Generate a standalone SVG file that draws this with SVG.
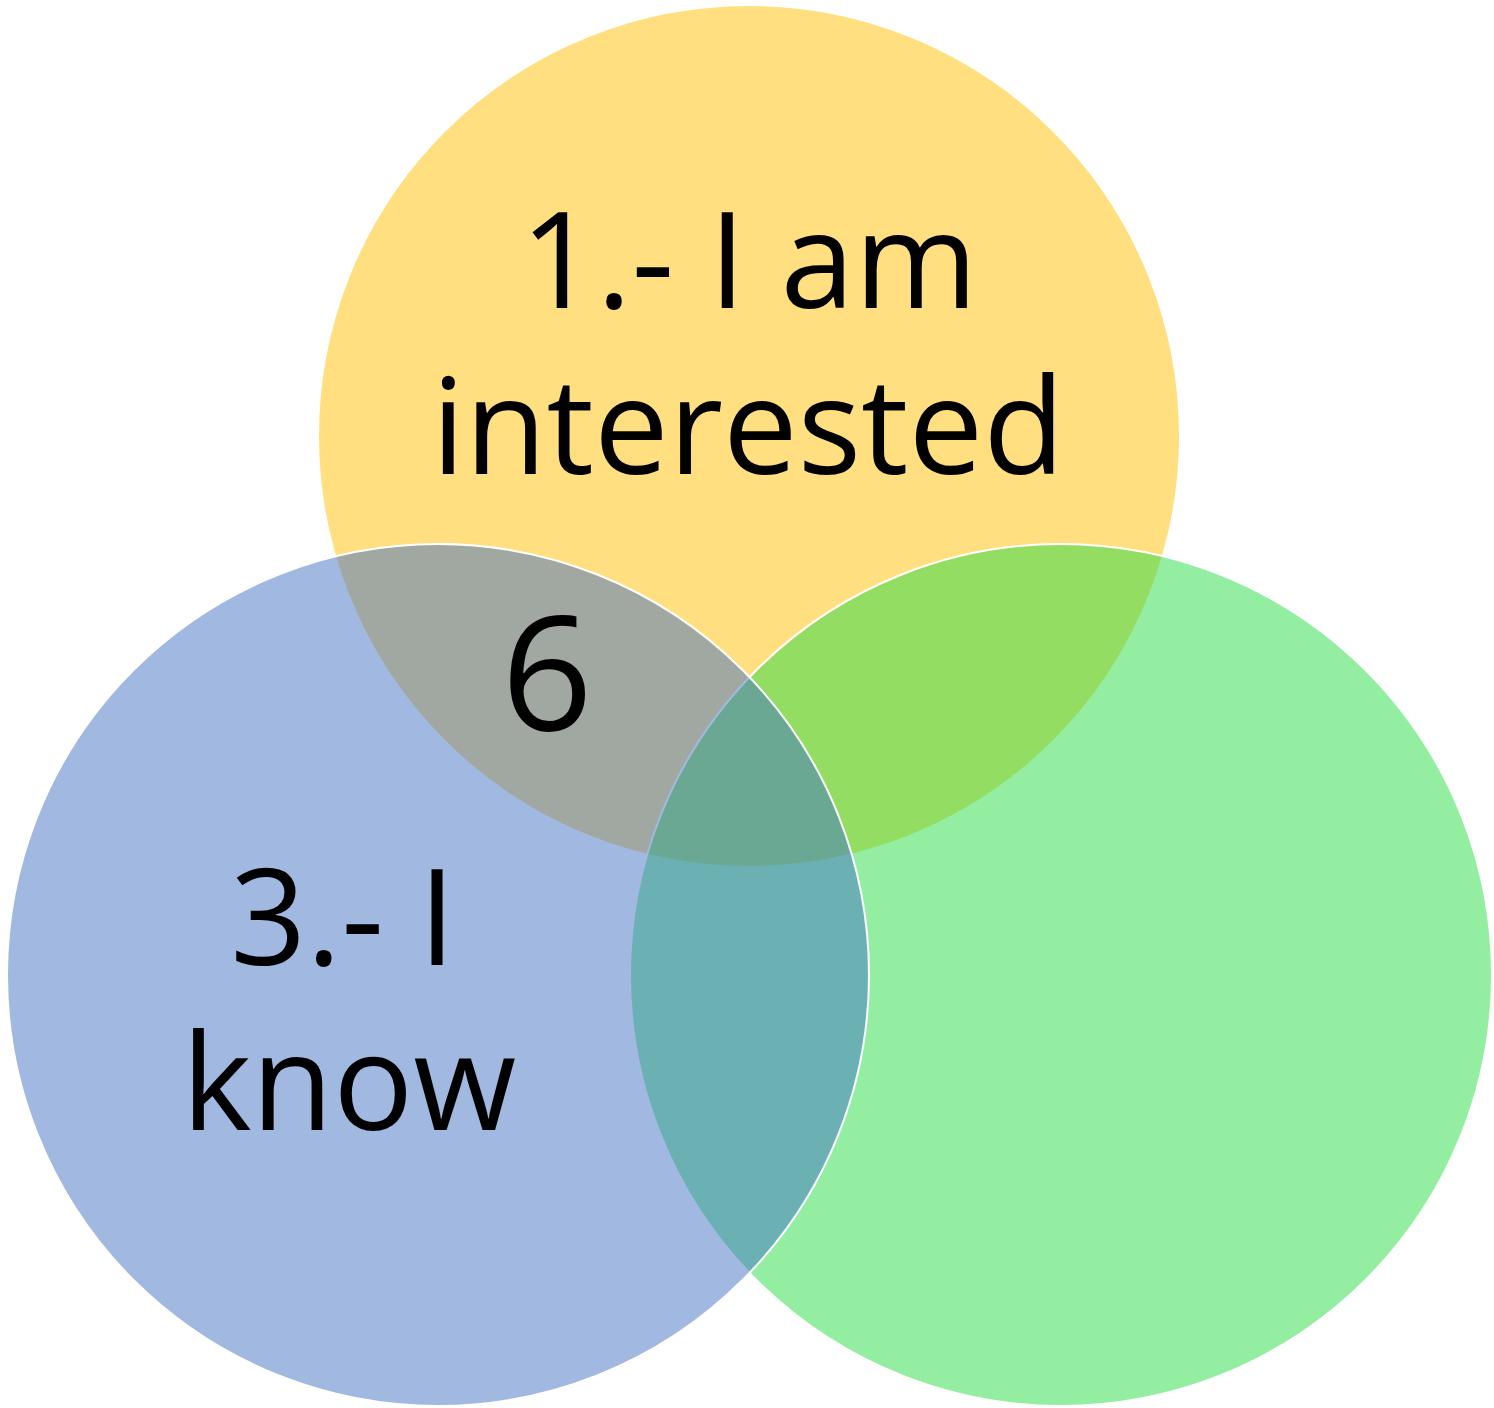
<svg xmlns="http://www.w3.org/2000/svg" width="1494" height="1408" viewBox="0 0 1494 1408">
  <style>
    .c { fill-opacity: 0.5; stroke: #FFFFFF; stroke-width: 2; }
    .t { font-family: "Open Sans", "Noto Sans", "Liberation Sans", sans-serif; fill: #000000; text-anchor: middle; }
  </style>
  <rect x="0" y="0" width="1494" height="1408" fill="#FFFFFF"/>
  <g id="circle-interested">
    <circle class="c" cx="749" cy="436" r="431" fill="#FFC000"/>
  </g>
  <g id="circle-green">
    <circle class="c" cx="1061" cy="975" r="431" fill="#27DD45"/>
  </g>
  <g id="circle-know">
    <circle class="c" cx="438" cy="975" r="431" fill="#4472C4"/>
  </g>
  <g id="labels">
    <text class="t" x="749" y="308" font-size="133">1.- I am</text>
    <text class="t" x="748" y="474" font-size="133">interested</text>
    <text class="t" x="547" y="730" font-size="160">6</text>
    <text class="t" x="343" y="965" font-size="133">3.- I</text>
    <text class="t" x="349" y="1130" font-size="133">know</text>
  </g>
  <g id="connectors"/>
</svg>
